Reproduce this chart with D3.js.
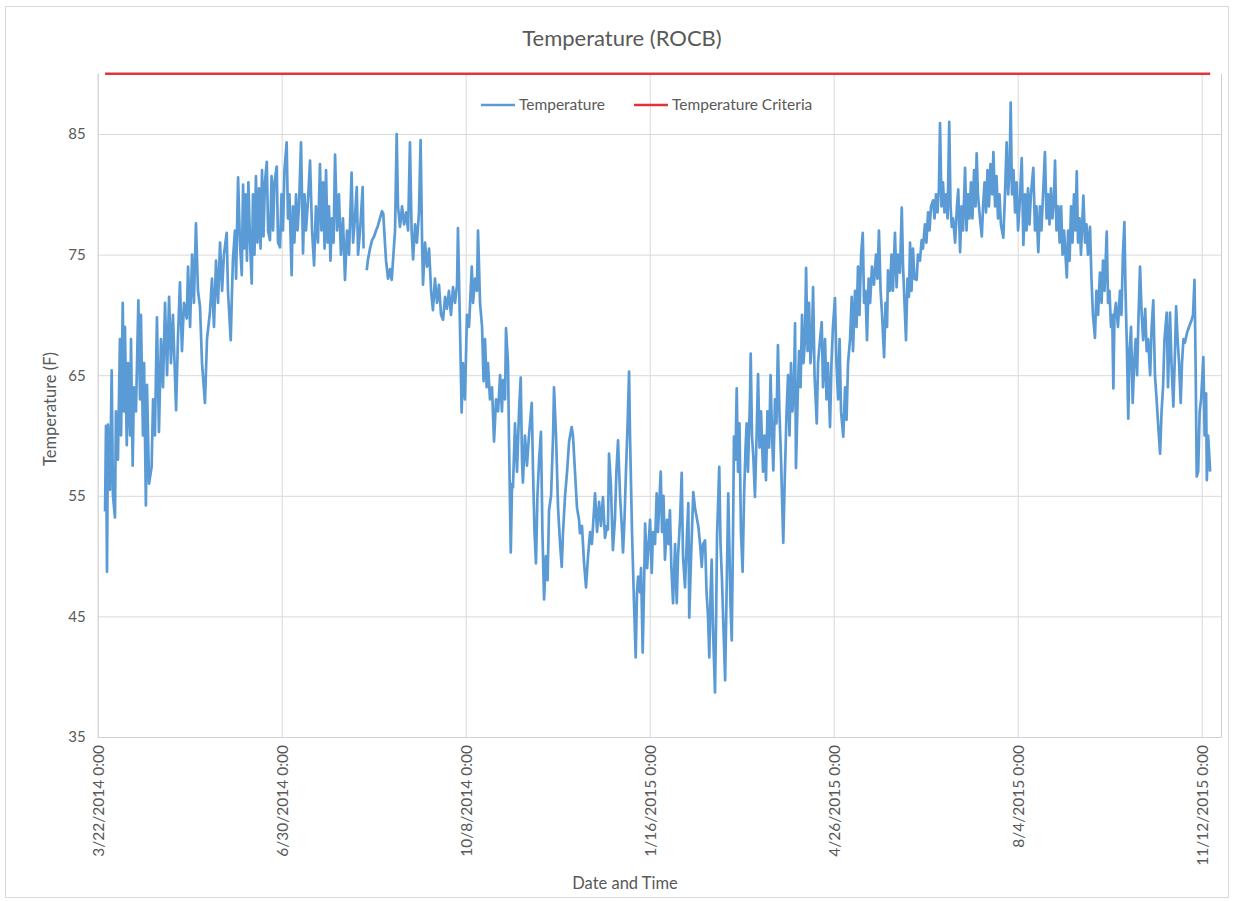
<!DOCTYPE html>
<html>
<head>
<meta charset="utf-8">
<script src="https://cdn.jsdelivr.net/npm/d3@7"></script>
<style>
  html, body { margin: 0; padding: 0; background: #fff; }
  svg { display: block; }
  text { font-family: Lato, "Open Sans", sans-serif; fill: #595959; }
</style>
</head>
<body>
<svg id="chart" width="1236" height="901"></svg>
<script>
// ---------------- DATA ----------------
const chartTitle = "Temperature (ROCB)";
const xAxisTitle = "Date and Time";
const yAxisTitle = "Temperature (F)";
const startDateUTC = Date.UTC(2014, 2, 22);          // 3/22/2014 0:00
const axisEndDay = 610.5;                             // days after start
const xTickDays = [0, 100, 200, 300, 400, 500, 600];
const xTickLabels = ["3/22/2014 0:00", "6/30/2014 0:00", "10/8/2014 0:00", "1/16/2015 0:00",
                     "4/26/2015 0:00", "8/4/2015 0:00", "11/12/2015 0:00"];
const yTicks = [35, 45, 55, 65, 75, 85];
const yDomain = [35, 90];
const seriesNames = ["Temperature", "Temperature Criteria"];
const criteriaValue = 90;
const criteriaDays = [4.0, 604.6];
// [days after 3/22/2014, temperature F]; null = gap in record
const temperatureReadings = [
[4.0,53.7],[4.5,60.8],[5.05,48.7],[5.6,60.9],[6.7,55.5],[7.6,65.4],[8.3,55],[9.4,53.2],[9.9,62],[11.0,58],
[12.1,68],[12.7,60],[13.6,71.0],[14.3,62],[14.8,69],[15.8,59.2],[16.5,66],[17.6,60],[18.1,68],[19.0,57.5],
[19.7,64],[20.8,62],[22.1,71.2],[23.0,63],[23.5,70],[24.6,60],[25.2,66],[26.2,54.2],[26.8,64.2],[27.9,56],
[29.3,57.4],[30.1,63],[31.1,60],[32.2,69.8],[33.3,60.3],[34.4,68],[35.5,64],[36.6,71],[37.7,65],[38.8,71.5],
[39.8,66],[40.9,70],[42.6,62.1],[43.6,68],[44.7,72.7],[45.8,67],[46.9,71],[48.4,69.7],[49.1,74],[50.2,69],
[51.3,75],[52.3,71],[53.4,77.6],[54.5,72],[55.6,70.7],[56.7,66],[58.3,62.7],[59.4,68],[61.0,70.2],[62.1,73],
[63.2,69],[64.3,74.5],[65.4,71],[66.5,76],[67.6,72],[68.6,75],[70.1,76.8],[70.8,72],[72.3,67.9],[73.0,72],
[73.5,74.6],[74.6,77],[75.2,73],[76.3,81.4],[77.3,76],[78.3,73.3],[79.0,80.8],[79.5,75.5],[80.3,80],[81.1,74.5],
[81.9,81],[82.8,76],[83.7,72.6],[84.4,80],[85.2,75],[86.0,81.5],[86.8,76],[87.7,80.5],[88.5,75.5],[89.3,82],
[90.1,76.5],[90.9,81],[91.9,82.7],[92.6,77],[93.6,76.2],[94.5,81.5],[95.3,77],[96.1,81],[97.3,82.3],[98.0,76],
[99.1,75.6],[99.9,80],[100.7,77],[101.5,82],[102.7,84.3],[103.4,78],[104.2,80],[105.4,73.3],[106.1,79],[106.9,76],
[107.8,80],[108.6,77],[109.4,79],[110.5,84.3],[111.6,75.1],[112.4,80],[113.2,77],[114.3,79.5],[115.4,82.8],[116.5,77],
[117.6,74.1],[118.6,79],[119.7,76],[120.8,82.5],[121.6,77],[122.5,81],[123.3,75.5],[124.1,82],[124.9,76],[125.7,79],
[126.5,74.5],[127.3,78],[128.2,76],[129.0,83.3],[130.1,77],[131.1,80],[132.2,75],[133.3,78],[134.4,72.9],[135.5,77],
[136.6,75],[138.0,81.8],[138.8,76],[139.8,78],[140.8,80.6],[141.5,75],[142.6,77],[144.0,80.6],[144.5,75.5],[145.3,null],
[146.2,73.7],[146.9,74.6],[148.0,75.5],[149.1,76.2],[150.2,76.5],[151.3,77],[152.3,77.4],[153.4,78],[154.5,78.6],[155.2,78.4],
[156.1,76],[156.7,74.5],[157.8,73],[158.9,73.8],[159.8,72.9],[160.5,74.5],[161.6,77],[162.5,85.0],[163.2,79],[164.3,77.3],
[165.4,79],[166.5,77.5],[167.6,78.5],[168.7,77],[169.7,84.3],[170.6,77],[171.4,74.6],[172.5,77.5],[173.5,76],[174.6,78.5],
[175.5,84.5],[176.3,76],[176.8,72.5],[177.9,76],[179.0,74],[180.1,75.5],[181.2,72],[182.2,70.4],[183.3,73],[184.4,71],
[185.5,72.5],[186.6,70],[187.7,69.6],[188.8,71.5],[189.8,70.5],[190.9,72],[192.0,70],[193.1,72.3],[194.2,71],[195.3,72.5],
[195.8,77.2],[196.9,69],[197.8,61.9],[198.5,66],[199.6,63],[200.7,70],[201.8,69],[203.3,74],[204.0,71],[205.1,73],
[206.1,72],[206.7,77.0],[207.8,71],[208.9,69],[209.7,64.5],[210.5,68],[211.4,64],[212.1,66],[213.2,63],[214.3,64],
[215.4,59.5],[216.5,63],[217.6,62],[218.7,65],[219.7,62],[220.3,64.6],[221.4,63],[221.9,68.9],[223.0,66],[223.5,60],
[224.5,50.3],[225.2,56],[225.7,55.7],[226.8,61],[227.9,57],[229.0,62],[229.9,64.8],[230.6,58],[231.1,56.1],[232.2,60],
[233.3,57.5],[234.4,60],[235.9,62.7],[236.6,57],[237.4,52],[238.2,49.4],[239.0,55],[239.9,58],[240.9,60.3],[241.7,52],
[242.6,46.4],[243.6,50],[244.5,48],[245.3,53.8],[246.4,55],[247.5,60],[248.0,64.0],[249.1,60],[250.2,54],[251.3,51],
[252.2,49.1],[252.9,52],[254.0,55],[255.1,57],[256.2,59.5],[257.6,60.7],[258.3,60],[259.4,57],[260.5,54],[261.6,53],
[262.1,51.9],[263.2,52.5],[264.3,49.5],[265.4,47.4],[266.5,50],[267.6,52],[268.6,51],[270.3,55.2],[271.4,52],[272.5,54.5],
[273.5,52.5],[274.6,54.9],[275.7,51.5],[276.8,52.5],[277.3,52.2],[277.9,58.5],[278.9,56],[280.0,50.5],[281.1,53],[281.9,57],
[282.8,59.6],[283.9,55],[285.0,52],[285.5,50.3],[286.3,53],[287.1,57],[288.0,61],[288.8,65.3],[289.3,60],[290.4,52],
[291.5,46],[292.4,41.6],[293.1,47],[293.7,48.3],[294.7,47],[295.3,49],[296.2,42.0],[297.0,48],[297.5,52.7],[298.6,49],
[299.4,51],[300.2,53],[301.1,48.6],[301.8,52],[302.9,51],[303.8,55.2],[304.5,52],[306.0,57.0],[306.7,52],[307.5,55],
[308.3,49.7],[309.4,53],[310.2,51],[311.0,53.8],[311.8,49],[312.7,46.1],[313.8,51],[314.7,46.1],[315.4,50],[316.5,53],
[317.4,56.9],[318.1,50],[319.2,47.4],[320.3,52],[321.0,54.4],[321.5,44.9],[322.5,50],[323.7,55.3],[324.6,54],[326.4,52.5],
[327.4,51],[328.3,49.1],[329.0,51],[330.1,51.3],[330.9,47],[331.7,45],[332.4,41.6],[333.1,47],[333.7,49.7],[334.4,44],
[335.5,38.7],[336.1,45],[336.6,51.6],[337.8,57.4],[338.5,51],[339.3,48],[340.1,44],[341.0,39.7],[341.8,47],[342.7,55.2],
[343.4,50],[343.9,46],[344.6,43.0],[345.3,52],[345.8,59.9],[346.6,58],[347.3,63.9],[348.0,57],[348.8,61],[349.6,52],
[350.5,48.7],[351.3,55],[352.1,59],[352.7,61.0],[353.4,57],[354.5,63],[354.9,66.8],[355.6,60],[356.4,58],[357.2,54.9],
[358.1,60],[358.9,65.1],[359.7,59],[360.5,62],[361.6,57],[362.4,60],[363.2,56.3],[364.0,62],[364.9,59],[365.7,65],
[366.5,60],[367.2,57.1],[368.1,63],[368.9,61],[369.7,67.5],[370.5,62],[371.4,58],[371.9,55],[372.6,51.1],[373.5,57],
[374.4,62],[375.2,65],[376.0,60],[376.8,66],[377.6,62],[378.4,64],[379.0,69.3],[379.5,57.3],[380.4,63],[381.2,67],
[382.0,64],[382.8,70],[383.6,66],[384.4,68],[385.0,73.9],[385.8,67],[386.6,71],[387.4,66],[388.2,68],[388.8,72.3],
[389.6,65],[390.8,61.0],[391.5,66],[392.6,68],[393.5,69.4],[394.2,64],[395.3,68],[396.1,63],[396.9,66],[398.0,60.7],
[398.8,66],[399.6,69],[400.7,71.4],[401.5,66],[402.4,63],[403.2,68],[404.0,62],[405.2,59.9],[406.2,64],[407.0,61.3],
[407.8,66],[408.9,68],[409.8,71.5],[410.5,67],[411.6,72],[412.4,69],[413.2,74],[414.0,70],[414.9,75],[415.8,76.8],
[416.5,71],[417.3,72],[418.1,67.9],[419.0,73],[419.8,71],[420.8,74],[421.9,72.5],[423.0,75],[423.8,73],[424.6,77.0],
[425.5,72],[426.3,70],[427.4,66.5],[428.2,71],[429.0,69],[429.5,73.7],[430.6,72],[431.4,75],[432.2,72],[433.3,76.8],
[434.2,72.3],[434.9,75],[436.0,73.5],[437.0,78.9],[437.7,74],[438.5,71],[439.3,67.9],[440.1,73],[440.9,71.5],[441.5,76],
[442.3,72],[443.1,75.5],[443.9,73],[445.1,72.9],[445.8,75],[446.9,74.5],[447.8,76.2],[448.5,75.5],[449.6,77.5],[450.4,76],
[451.3,78.5],[452.1,77],[452.9,79],[454.0,79.5],[454.8,78],[455.6,80],[456.4,78.5],[457.2,80.5],[457.8,85.9],[458.6,79],
[459.4,81],[460.2,78.5],[461.1,80],[461.9,78],[462.8,86.0],[463.5,79],[464.2,77.3],[464.9,78],[466.0,76],[467.0,79],
[467.7,80.4],[468.7,75.2],[469.5,79],[470.3,77],[471.4,82.2],[472.2,77],[473.0,80],[473.8,78],[474.6,81],[475.4,78],
[476.3,82],[477.1,79],[477.7,83.4],[478.4,80],[479.5,78],[480.5,76.5],[481.2,79],[482.0,81],[482.8,78.5],[483.6,82],
[484.4,79],[485.2,82.5],[486.1,80],[486.8,83.5],[487.7,79],[488.5,81.5],[489.3,78],[490.1,80],[490.9,77.5],[492.2,76.4],
[493.1,80],[494.0,84.3],[494.8,80],[495.6,82],[496.2,87.6],[496.9,80],[497.7,82],[498.6,78.5],[499.4,81],[500.2,77],
[501.0,79],[502.2,83.0],[503.1,75.8],[504.0,80],[504.8,77],[505.6,80.5],[506.4,77.5],[507.2,80],[508.5,82.2],[509.4,77],
[510.2,79],[511.2,75.2],[512.1,79],[512.9,77],[513.8,80],[514.8,83.5],[515.7,78],[516.5,80],[517.3,77.5],[518.1,80.5],
[518.9,78],[519.8,80],[520.3,82.8],[521.1,77],[522.0,79],[522.8,76],[523.6,79],[524.4,75],[525.2,77],[526.7,73.1],
[527.4,77],[528.2,74.5],[529.0,79],[529.8,76],[530.6,80],[531.4,77],[532.1,81.9],[532.8,76],[533.6,78],[534.4,75],
[535.7,79.9],[536.6,76],[537.4,77.5],[538.2,75],[539.3,77.3],[540.1,73],[540.9,70],[542.0,68.1],[542.8,72],[543.7,70],
[544.7,73.5],[545.6,71],[546.4,74.5],[547.2,72],[548.4,76.9],[549.1,71],[549.9,72],[550.7,69],[551.4,70],[552.0,63.9],
[552.6,70],[553.4,71],[554.5,69],[555.6,72],[556.4,70],[557.2,75],[558.0,77.7],[558.6,72],[559.4,67],[560.1,61.4],
[560.8,67],[561.6,69],[562.5,62.7],[563.3,66],[564.1,68],[564.9,65],[565.7,70],[566.5,74.0],[567.4,70],[568.2,67.9],
[569.3,70.5],[570.1,67],[570.9,68],[572.0,65],[572.8,69],[573.7,71.2],[574.6,65],[575.5,63],[576.3,61],[577.4,58.5],
[578.2,62],[579.0,64],[579.8,68],[581.0,70.2],[581.7,64],[582.8,70.2],[583.6,66],[584.6,62.4],[585.5,67],[586.1,70.7],
[586.9,68],[587.7,66],[588.6,62.7],[589.3,66],[590.1,68],[590.9,67.7],[592.0,68.5],[593.1,69],[594.6,69.6],[595.3,70],
[596.1,72.9],[596.7,66],[597.3,56.6],[598.1,57],[598.9,62],[599.7,63],[600.9,66.5],[601.6,60],[602.4,63.5],[602.8,56.3],
[603.5,60],[604.6,57]
];
const seriesColors = ["#5B9BD5", "#E2343B"];

// ---------------- CHART ----------------
const svg = d3.select("#chart");
const plot = { left: 97.7, right: 1221, top: 73.7, bottom: 737 };
const dayToDate = d => new Date(startDateUTC + d * 864e5);

const x = d3.scaleUtc()
  .domain([dayToDate(0), dayToDate(axisEndDay)])
  .range([plot.left, plot.right]);
const y = d3.scaleLinear().domain(yDomain).range([plot.bottom, plot.top]);

// outer frame
svg.append("rect").attr("x", 5.5).attr("y", 6.5).attr("width", 1223).attr("height", 891)
  .attr("fill", "#fff").attr("stroke", "#d9d9d9").attr("stroke-width", 1);

// horizontal gridlines + y labels
const yAxis = d3.axisLeft(y).tickValues(yTicks).tickSize(-(plot.right - plot.left)).tickPadding(12)
  .tickFormat(d3.format("d"));
const gy = svg.append("g").attr("transform", `translate(${plot.left},0)`).call(yAxis);
gy.select(".domain").remove();
gy.selectAll(".tick line").attr("stroke", "#d9d9d9");
gy.selectAll(".tick text").style("font-size", "15px").attr("fill", "#595959");
gy.selectAll(".tick").filter(d => d === yDomain[0]).select("line").attr("stroke", "#d0d0d0");

// vertical gridlines + x labels
const xTickDates = xTickDays.map(dayToDate);
const xAxis = d3.axisBottom(x).tickValues(xTickDates).tickSize(-(plot.bottom - plot.top))
  .tickFormat((d, i) => xTickLabels[i]);
const gx = svg.append("g").attr("transform", `translate(0,${plot.bottom})`).call(xAxis);
gx.select(".domain").attr("stroke", "#d0d0d0");
gx.selectAll(".tick line").attr("stroke", "#d9d9d9");
gx.selectAll(".tick text")
  .style("font-size", "15.5px").attr("fill", "#595959")
  .attr("text-anchor", "end")
  .attr("transform", "rotate(-90)")
  .attr("x", -8).attr("y", 0).attr("dy", "0.35em");

// criteria line
svg.append("line")
  .attr("x1", x(dayToDate(criteriaDays[0]))).attr("x2", x(dayToDate(criteriaDays[1])))
  .attr("y1", y(criteriaValue)).attr("y2", y(criteriaValue))
  .attr("stroke", seriesColors[1]).attr("stroke-width", 2.5);

// temperature line
const line = d3.line()
  .defined(d => d[1] !== null)
  .x(d => x(dayToDate(d[0])))
  .y(d => y(d[1]));
svg.append("path").datum(temperatureReadings)
  .attr("d", line).attr("fill", "none")
  .attr("stroke", seriesColors[0]).attr("stroke-width", 2.7)
  .attr("stroke-linejoin", "round");

// title
svg.append("text").attr("x", 622).attr("y", 46).attr("text-anchor", "middle")
  .style("font-size", "22px").text(chartTitle);

// axis titles
svg.append("text").attr("x", 625).attr("y", 889).attr("text-anchor", "middle")
  .style("font-size", "16.5px").text(xAxisTitle);
svg.append("text").attr("transform", "translate(56,409) rotate(-90)").attr("text-anchor", "middle")
  .style("font-size", "16.5px").text(yAxisTitle);

// legend
const legendX = [481, 634];
seriesNames.forEach((name, i) => {
  const g = svg.append("g").attr("transform", `translate(${legendX[i]},105)`);
  g.append("line").attr("x1", 0).attr("x2", 34).attr("y1", 0).attr("y2", 0)
    .attr("stroke", seriesColors[i]).attr("stroke-width", 2.5);
  g.append("text").attr("x", 38).attr("y", 0).attr("dy", "0.35em")
    .style("font-size", "15.5px").text(name);
});
</script>
</body>
</html>
